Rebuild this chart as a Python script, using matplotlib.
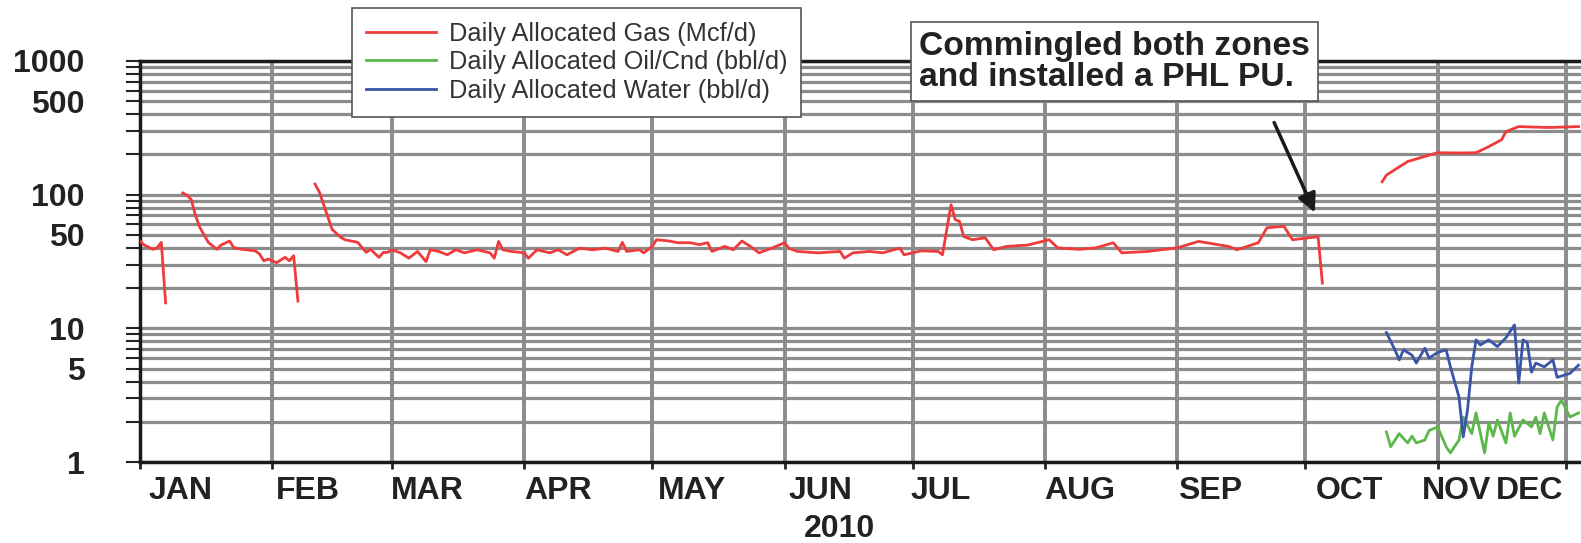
import numpy as np
import pandas as pd
import matplotlib
matplotlib.use('Agg')
from matplotlib import pyplot as plt
import matplotlib.dates as mdates
from matplotlib.ticker import FixedLocator, NullFormatter, LogLocator

plt.rcParams['font.family'] = ['Liberation Sans', 'DejaVu Sans']

# Gas (Mcf/d), NaN marks the shut-in gaps
gas_dates = ['2010-01-01', '2010-01-02', '2010-01-04', '2010-01-05', '2010-01-06', '2010-01-07',
             '2010-01-09',
             '2010-01-11', '2010-01-12', '2010-01-13', '2010-01-14', '2010-01-15', '2010-01-16',
             '2010-01-17', '2010-01-19', '2010-01-20', '2010-01-22', '2010-01-23', '2010-01-25',
             '2010-01-28', '2010-01-29', '2010-01-30', '2010-01-31', '2010-02-02', '2010-02-04',
             '2010-02-05', '2010-02-06', '2010-02-07',
             '2010-02-09',
             '2010-02-11', '2010-02-12', '2010-02-14', '2010-02-15', '2010-02-17', '2010-02-18',
             '2010-02-21', '2010-02-23', '2010-02-24', '2010-02-26', '2010-02-27', '2010-02-28',
             '2010-03-01', '2010-03-03', '2010-03-05', '2010-03-07', '2010-03-09', '2010-03-10',
             '2010-03-12', '2010-03-14', '2010-03-16', '2010-03-18', '2010-03-21', '2010-03-24',
             '2010-03-25', '2010-03-26', '2010-03-27', '2010-03-29', '2010-04-01', '2010-04-02',
             '2010-04-04', '2010-04-07', '2010-04-09', '2010-04-11', '2010-04-14', '2010-04-17',
             '2010-04-20', '2010-04-23', '2010-04-24', '2010-04-25', '2010-04-28', '2010-04-29',
             '2010-05-01', '2010-05-02', '2010-05-05', '2010-05-07', '2010-05-10', '2010-05-12',
             '2010-05-14', '2010-05-15', '2010-05-18', '2010-05-20', '2010-05-22', '2010-05-24',
             '2010-05-26', '2010-05-29', '2010-06-01', '2010-06-02', '2010-06-04', '2010-06-09',
             '2010-06-14', '2010-06-15', '2010-06-17', '2010-06-21', '2010-06-24', '2010-06-28',
             '2010-06-29', '2010-07-03', '2010-07-07', '2010-07-08', '2010-07-10', '2010-07-11',
             '2010-07-12', '2010-07-13', '2010-07-15', '2010-07-18', '2010-07-20', '2010-07-23',
             '2010-07-28', '2010-08-02', '2010-08-04', '2010-08-09', '2010-08-13', '2010-08-17',
             '2010-08-19', '2010-08-25', '2010-09-01', '2010-09-06', '2010-09-13', '2010-09-15',
             '2010-09-20', '2010-09-22', '2010-09-26', '2010-09-28', '2010-10-02', '2010-10-04',
             '2010-10-05',
             '2010-10-10',
             '2010-10-19', '2010-10-20', '2010-10-22', '2010-10-25', '2010-10-27', '2010-11-01',
             '2010-11-06', '2010-11-10', '2010-11-13', '2010-11-16', '2010-11-17', '2010-11-20',
             '2010-11-27', '2010-12-04']
gas_vals = [45, 42, 39, 40, 44, 15.5,
            np.nan,
            103, 99, 92, 70, 57, 50,
            44, 39, 42, 45, 40, 39,
            38, 36, 32, 33, 31, 34,
            32, 35, 16,
            np.nan,
            120, 105, 68, 55, 48, 46,
            44, 37, 39, 34, 37, 37,
            38.7, 36.7, 33.5, 37.6, 31.6, 38.7,
            37.6, 35.5, 38.7, 36.7, 38.7, 36.7,
            33.5, 44.7, 38.7, 37.6, 36.7, 33.5,
            38.7, 36.7, 38.7, 35.5, 39.8, 38.7,
            39.8, 37.6, 44, 37.6, 38.7, 36.7,
            41, 46, 45, 43.7, 43.7, 42.3,
            43.7, 37.6, 41, 38.7, 45, 41,
            36.7, 39.8, 43.7, 39.8, 37.6, 36.7,
            37.6, 33.5, 36.7, 37.6, 36.7, 39.8,
            35.5, 38, 37.6, 35.5, 84, 65,
            63, 48.5, 46, 47.6, 38.7, 41,
            42, 46, 40, 39, 40, 43.7,
            36.7, 37.6, 40, 44.7, 41, 38.7,
            43.7, 56.5, 58, 46, 47.6, 48.5,
            21.8,
            np.nan,
            125, 140, 154, 177, 185, 206,
            205, 206, 229, 258, 296, 323,
            318, 323]

# Oil/condensate (bbl/d)
oil_dates = ['2010-10-20', '2010-10-21', '2010-10-23', '2010-10-24', '2010-10-25', '2010-10-26',
             '2010-10-27', '2010-10-29', '2010-10-30', '2010-11-01', '2010-11-03', '2010-11-04',
             '2010-11-06', '2010-11-07', '2010-11-09', '2010-11-10', '2010-11-12', '2010-11-13',
             '2010-11-14', '2010-11-15', '2010-11-17', '2010-11-18', '2010-11-19', '2010-11-21',
             '2010-11-23', '2010-11-24', '2010-11-25', '2010-11-26', '2010-11-28', '2010-11-29',
             '2010-11-30', '2010-12-02', '2010-12-04']
oil_vals = [1.68, 1.3, 1.63, 1.5, 1.39, 1.56,
            1.39, 1.46, 1.72, 1.83, 1.3, 1.17,
            1.46, 2.17, 1.63, 2.33, 1.17, 1.96,
            1.56, 2.06, 1.39, 2.33, 1.56, 2.06,
            1.83, 2.17, 1.63, 2.33, 1.46, 2.58,
            2.9, 2.17, 2.33]

# Water (bbl/d)
water_dates = ['2010-10-20', '2010-10-22', '2010-10-23', '2010-10-24', '2010-10-26', '2010-10-27',
               '2010-10-29', '2010-10-30', '2010-11-01', '2010-11-03', '2010-11-04', '2010-11-06',
               '2010-11-07', '2010-11-08', '2010-11-09', '2010-11-10', '2010-11-11', '2010-11-13',
               '2010-11-15', '2010-11-17', '2010-11-19', '2010-11-20', '2010-11-21', '2010-11-22',
               '2010-11-23', '2010-11-24', '2010-11-26', '2010-11-28', '2010-11-29', '2010-12-02',
               '2010-12-04']
water_vals = [9.3, 6.9, 5.8, 6.9, 6.3, 5.5,
              7.1, 6.0, 6.6, 6.9, 5.15, 3.07,
              1.54, 2.45, 5.15, 8.2, 7.5, 8.2,
              7.3, 8.5, 10.6, 3.9, 8.2, 7.8,
              4.7, 5.5, 5.15, 5.8, 4.3, 4.6,
              5.3]

month_labels = ['JAN', 'FEB', 'MAR', 'APR', 'MAY', 'JUN', 'JUL', 'AUG', 'SEP', 'OCT', 'NOV', 'DEC']
ytick_vals = [1, 5, 10, 50, 100, 500, 1000]

# where each month name sits, in days from the start of its month
label_offsets = [9.6, 8.3, 8.4, 7.9, 9.3, 8.3, 6.6, 8.1, 7.8, 10.4, 4.4, -8.5]

fig = plt.figure(figsize=(15.81, 5.43), dpi=100)
ax = fig.add_axes([140 / 1581, 81 / 543, 1558 / 1581, 401 / 543])

grid_col = '#8c8c8c'
ink = '#222222'

l1, = ax.plot(pd.to_datetime(gas_dates), gas_vals, color='#ee3b3b', lw=2.0, label='Daily Allocated Gas (Mcf/d)', zorder=3)
l2, = ax.plot(pd.to_datetime(oil_dates), oil_vals, color='#5cb84a', lw=2.0, label='Daily Allocated Oil/Cnd (bbl/d)', zorder=3)
l3, = ax.plot(pd.to_datetime(water_dates), water_vals, color='#3a55a8', lw=2.0, label='Daily Allocated Water (bbl/d)', zorder=3)

# y axis (log)
ax.set_yscale('log')
ax.set_ylim(1, 1000)
ax.yaxis.set_major_locator(FixedLocator(ytick_vals))
ax.set_yticklabels([str(v) for v in ytick_vals])
ax.yaxis.set_minor_locator(LogLocator(base=10, subs=np.arange(2, 10)))
ax.yaxis.set_minor_formatter(NullFormatter())
ax.tick_params(axis='y', which='both', direction='out', length=10, width=1.5, color=ink,
               pad=30, labelsize=23, labelcolor=ink)
for t in ax.get_yticklabels():
    t.set_fontweight('bold')
ax.grid(True, axis='y', which='both', color=grid_col, lw=2.3, zorder=1)

# x axis (months)
month_starts = pd.date_range('2010-01-01', periods=12, freq='MS')
ax.set_xlim(pd.Timestamp('2010-01-01'), pd.Timestamp('2011-01-01'))
ax.xaxis.set_major_locator(FixedLocator(mdates.date2num(month_starts)))
ax.xaxis.set_major_formatter(NullFormatter())
label_pos = mdates.date2num(month_starts) + np.array(label_offsets)
ax.xaxis.set_minor_locator(FixedLocator(label_pos))
ax.set_xticklabels(month_labels, minor=True)
ax.tick_params(axis='x', which='major', direction='out', length=5, width=2, color=ink)
ax.tick_params(axis='x', which='minor', length=0, pad=10, labelsize=23, labelcolor=ink)
for t in ax.get_xticklabels(minor=True):
    t.set_fontweight('bold')
ax.grid(True, axis='x', which='major', color=grid_col, lw=2.8, zorder=1)
ax.set_axisbelow(True)

for s in ax.spines.values():
    s.set_color('#1a1a1a')
    s.set_linewidth(2.5)

fig.text(840 / 1581, 1 - 529 / 543, '2010', ha='center', va='center', fontsize=23,
         fontweight='bold', color=ink)

# legend
leg = fig.legend(handles=[l1, l2, l3], loc='upper left', bbox_to_anchor=(352 / 1581, 1 - 8 / 543),
                 borderaxespad=0, fontsize=18.3, frameon=True, fancybox=False, framealpha=1,
                 edgecolor='#555555', handlelength=2.75, labelspacing=0.17, borderpad=0.55,
                 handletextpad=0.5)
leg.get_frame().set_linewidth(1.2)
for t in leg.get_texts():
    t.set_color('#333333')

# annotation
fig.text(919 / 1581, 1 - 61.5 / 543, 'Commingled both zones\nand installed a PHL PU.',
         ha='left', va='center', fontsize=24.2, fontweight='bold', color=ink, linespacing=1.0,
         bbox=dict(boxstyle='square,pad=0.25', fc='white', ec='#555555', lw=1.2))
ax.annotate('', xy=(1316, 543 - 215), xytext=(1273, 543 - 120), xycoords='figure pixels',
            textcoords='figure pixels',
            arrowprops=dict(arrowstyle='-|>', color='#1a1a1a', lw=2.5, mutation_scale=28))

plt.savefig('out.png', dpi=100)
